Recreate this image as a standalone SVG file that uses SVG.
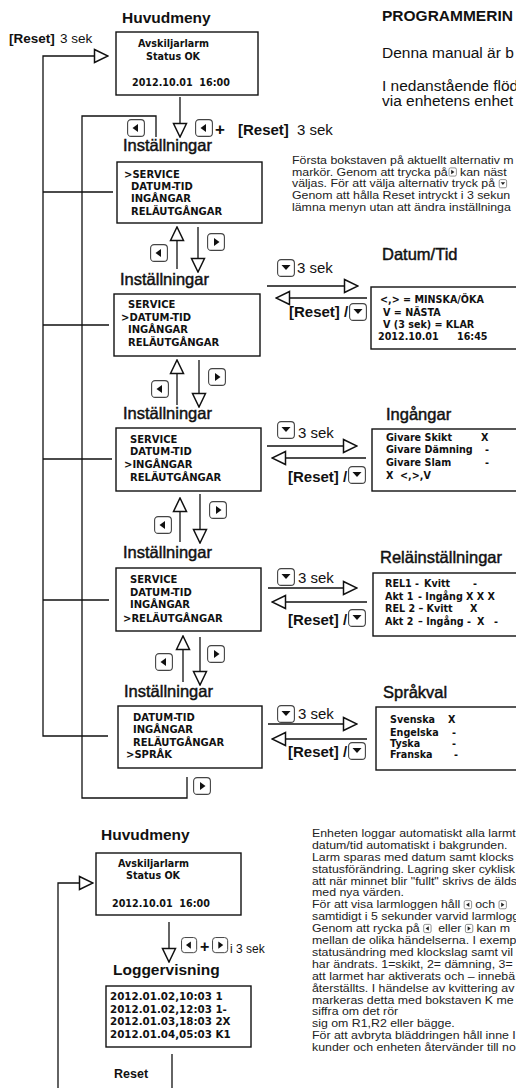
<svg xmlns="http://www.w3.org/2000/svg" width="516" height="1088" viewBox="0 0 516 1088">
<style>
text{font-family:"Liberation Sans",Arial,sans-serif;fill:#111}
.hb{font-weight:bold;font-size:15.5px}
.ttl{font-size:16.5px;stroke:#111;stroke-width:0.45px}
.bx{font-family:"DejaVu Sans",sans-serif;font-weight:bold;font-size:9.6px}
.mx{font-family:"DejaVu Sans",sans-serif;font-weight:bold;font-size:10px}
.lg{font-family:"DejaVu Sans",sans-serif;font-weight:bold;font-size:10.3px}
.lbl{font-size:15px}
.b{font-weight:bold}
.par{font-size:10.3px;fill:#222}
.big{font-size:15.5px}
.box{fill:#fff;stroke:#111;stroke-width:1.4}
.ln{fill:none;stroke:#111;stroke-width:1.3}
.btn{fill:#fff;stroke:#444;stroke-width:1.1}
.sbtn{fill:#fff;stroke:#666;stroke-width:0.7}
</style>
<defs>
<marker id="tri" viewBox="0 0 16 16" refX="15" refY="8" markerWidth="16" markerHeight="16" markerUnits="userSpaceOnUse" orient="auto">
<path d="M1.5,1.5 L15,8 L1.5,14.5 Z" fill="#fff" stroke="#111" stroke-width="1.5" stroke-linejoin="miter"/>
</marker>
<g id="bL"><rect x="0.6" y="0.6" width="16.8" height="16.8" rx="3.5" class="btn"/><path d="M5.5,9 L11,5 L11,13 Z" fill="#111"/></g>
<g id="bR"><rect x="0.6" y="0.6" width="16.8" height="16.8" rx="3.5" class="btn"/><path d="M12.5,9 L7,5 L7,13 Z" fill="#111"/></g>
<g id="bD"><rect x="0.6" y="0.6" width="16.8" height="16.8" rx="3.5" class="btn"/><path d="M4.5,6 L13.5,6 L9,11 Z" fill="#111"/></g>
<g id="sL"><rect x="0.4" y="0.4" width="7.4" height="8.2" rx="1.5" class="sbtn"/><path d="M2.3,4.5 L5.5,2.3 L5.5,6.7 Z" fill="#222"/></g>
<g id="sR"><rect x="0.4" y="0.4" width="7.4" height="8.2" rx="1.5" class="sbtn"/><path d="M5.8,4.5 L2.6,2.3 L2.6,6.7 Z" fill="#222"/></g>
<g id="sD"><rect x="0.4" y="0.4" width="7.4" height="8.2" rx="1.5" class="sbtn"/><path d="M1.9,3 L6.3,3 L4.1,5.8 Z" fill="#222"/></g>
</defs>

<g id="connectors">
<path class="ln" d="M108,736 H43 V56 H108" marker-end="url(#tri)"/>
<path class="ln" d="M43,192 H113 M43,325 H109 M43,459 H112 M43,600 H109"/>
<path class="ln" d="M156,137 V116 H82 V798 H187 V777"/>
<path class="ln" d="M180,97 V137" marker-end="url(#tri)"/>
<path class="ln" d="M177,269 V227" marker-end="url(#tri)"/>
<path class="ln" d="M198,227 V272" marker-end="url(#tri)"/>
<path class="ln" d="M177,405 V360" marker-end="url(#tri)"/>
<path class="ln" d="M199,360 V407" marker-end="url(#tri)"/>
<path class="ln" d="M180,542 V498" marker-end="url(#tri)"/>
<path class="ln" d="M200,494 V543" marker-end="url(#tri)"/>
<path class="ln" d="M183,682 V636" marker-end="url(#tri)"/>
<path class="ln" d="M200,637 V685" marker-end="url(#tri)"/>
<path class="ln" d="M267,286 H358" marker-end="url(#tri)"/>
<path class="ln" d="M367,298 H276" marker-end="url(#tri)"/>
<path class="ln" d="M267,446 H357" marker-end="url(#tri)"/>
<path class="ln" d="M366,458 H272" marker-end="url(#tri)"/>
<path class="ln" d="M268,588 H357" marker-end="url(#tri)"/>
<path class="ln" d="M367,602 H272" marker-end="url(#tri)"/>
<path class="ln" d="M268,724 H357" marker-end="url(#tri)"/>
<path class="ln" d="M367,739 H272" marker-end="url(#tri)"/>
<path class="ln" d="M58,1088 V883 H93" marker-end="url(#tri)"/>
<path class="ln" d="M169,922 V962" marker-end="url(#tri)"/>
<path class="ln" d="M172,1054 V1088"/>
</g>

<g id="labels">
<text x="9" y="43" class="b" style="font-size:13.5px">[Reset]</text>
<text x="60" y="43" style="font-size:13.5px">3 sek</text>
<use href="#bL" x="127" y="119"/>
<use href="#bL" x="195" y="119"/>
<text x="215" y="135" class="b" style="font-size:17px">+</text>
<text x="238" y="135" class="lbl b">[Reset]</text>
<text x="297" y="135" class="lbl">3 sek</text>
<use href="#bL" x="150" y="244"/><use href="#bR" x="207" y="233"/>
<use href="#bL" x="151" y="380"/><use href="#bR" x="208" y="368"/>
<use href="#bL" x="154" y="516"/><use href="#bR" x="209" y="501"/>
<use href="#bL" x="155" y="653"/><use href="#bR" x="207" y="645"/>
<use href="#bR" x="193" y="777"/>
<use href="#bD" x="277" y="259"/><text x="297" y="273" class="lbl">3 sek</text>
<text x="289" y="317" class="lbl b">[Reset] /</text><use href="#bD" x="349" y="303"/>
<use href="#bD" x="277" y="421"/><text x="298" y="438" class="lbl">3 sek</text>
<text x="288" y="482" class="lbl b">[Reset] /</text><use href="#bD" x="348" y="466"/>
<use href="#bD" x="277" y="568"/><text x="298" y="583" class="lbl">3 sek</text>
<text x="288" y="625" class="lbl b">[Reset] /</text><use href="#bD" x="348" y="609"/>
<use href="#bD" x="277" y="705"/><text x="298" y="719" class="lbl">3 sek</text>
<text x="288" y="757" class="lbl b">[Reset] /</text><use href="#bD" x="348" y="742"/>
<use href="#bL" transform="translate(181,937) scale(0.9)"/>
<text x="200" y="952" class="b" style="font-size:16px">+</text>
<use href="#bR" transform="translate(212,937) scale(0.9)"/>
<text x="230" y="953" style="font-size:12px">i 3 sek</text>
<text x="114" y="1078" class="b" style="font-size:12.5px">Reset</text>
</g>

<g id="huvudmeny">
<text x="122" y="23" class="hb">Huvudmeny</text>
<rect x="116" y="32" width="142" height="63" class="box"/>
<text x="138" y="47" class="bx">Avskiljarlarm</text>
<text x="146" y="60" class="bx">Status OK</text>
<text x="132" y="86" class="bx" xml:space="preserve">2012.10.01  16:00</text>
</g>

<g id="inst1">
<text x="123" y="151" class="ttl">Inställningar</text>
<rect x="117" y="162" width="145" height="61" class="box"/>
<text x="124" y="178" class="mx">&gt;SERVICE</text>
<text x="131" y="190" class="mx">DATUM-TID</text>
<text x="131" y="202" class="mx">INGÅNGAR</text>
<text x="131" y="214.5" class="mx">RELÄUTGÅNGAR</text>
</g>

<g id="inst2">
<text x="120" y="285" class="ttl">Inställningar</text>
<rect x="114" y="294" width="146" height="62" class="box"/>
<text x="128" y="308" class="mx">SERVICE</text>
<text x="121" y="321" class="mx">&gt;DATUM-TID</text>
<text x="128" y="333" class="mx">INGÅNGAR</text>
<text x="128" y="346" class="mx">RELÄUTGÅNGAR</text>
</g>

<g id="inst3">
<text x="123" y="419" class="ttl">Inställningar</text>
<rect x="116" y="428" width="145" height="63" class="box"/>
<text x="130" y="443" class="mx">SERVICE</text>
<text x="130" y="455" class="mx">DATUM-TID</text>
<text x="124" y="468" class="mx">&gt;INGÅNGAR</text>
<text x="130" y="481" class="mx">RELÄUTGÅNGAR</text>
</g>

<g id="inst4">
<text x="123" y="558" class="ttl">Inställningar</text>
<rect x="116" y="568" width="145" height="63" class="box"/>
<text x="130" y="583" class="mx">SERVICE</text>
<text x="130" y="596" class="mx">DATUM-TID</text>
<text x="130" y="608" class="mx">INGÅNGAR</text>
<text x="123" y="622" class="mx">&gt;RELÄUTGÅNGAR</text>
</g>

<g id="inst5">
<text x="124" y="697" class="ttl">Inställningar</text>
<rect x="118" y="706" width="144" height="62" class="box"/>
<text x="133" y="721" class="mx">DATUM-TID</text>
<text x="133" y="733" class="mx">INGÅNGAR</text>
<text x="133" y="746" class="mx">RELÄUTGÅNGAR</text>
<text x="126" y="758" class="mx">&gt;SPRÅK</text>
</g>

<g id="datumtid">
<text x="382" y="260" class="ttl">Datum/Tid</text>
<rect x="371" y="287" width="160" height="62" class="box"/>
<text x="380" y="303" class="bx">&lt;,&gt; = MINSKA/ÖKA</text>
<text x="383" y="316" class="bx">V = NÄSTA</text>
<text x="383" y="328" class="bx">V (3 sek) = KLAR</text>
<text x="378" y="340" class="bx">2012.10.01</text><text x="457" y="340" class="bx">16:45</text>
</g>

<g id="ingangar">
<text x="386" y="420" class="ttl">Ingångar</text>
<rect x="372" y="429" width="160" height="62" class="box"/>
<text x="386" y="441" class="bx">Givare Skikt</text><text x="481" y="441" class="bx">X</text>
<text x="386" y="453" class="bx">Givare Dämning</text><text x="485" y="453" class="bx">-</text>
<text x="386" y="466" class="bx">Givare Slam</text><text x="485" y="466" class="bx">-</text>
<text x="386" y="479" class="bx" xml:space="preserve">X  &lt;,&gt;,V</text>
</g>

<g id="relainst">
<text x="380" y="563" class="ttl">Reläinställningar</text>
<rect x="373" y="573" width="160" height="63" class="box"/>
<text x="385" y="587" class="bx">REL1 -</text><text x="424" y="587" class="bx">Kvitt</text><text x="473" y="587" class="bx">-</text>
<text x="385" y="600" class="bx">Akt 1</text><text x="418" y="600" class="bx">- Ingång X X X</text>
<text x="385" y="612" class="bx">REL 2 – Kvitt</text><text x="470" y="612" class="bx">X</text>
<text x="385" y="625" class="bx">Akt 2</text><text x="418" y="625" class="bx">– Ingång -</text><text x="477" y="625" class="bx">X</text><text x="494" y="625" class="bx">-</text>
</g>

<g id="sprakval">
<text x="383" y="698" class="ttl">Språkval</text>
<rect x="376" y="707" width="160" height="63" class="box"/>
<text x="390" y="723" class="bx">Svenska</text><text x="448" y="723" class="bx">X</text>
<text x="390" y="736" class="bx">Engelska</text><text x="452" y="736" class="bx">-</text>
<text x="390" y="747" class="bx">Tyska</text><text x="452" y="747" class="bx">-</text>
<text x="390" y="758" class="bx">Franska</text><text x="454" y="758" class="bx">-</text>
</g>

<g id="huvudmeny2">
<text x="101" y="840" class="hb">Huvudmeny</text>
<rect x="96" y="853" width="145" height="62" class="box"/>
<text x="118" y="867" class="bx">Avskiljarlarm</text>
<text x="126" y="879" class="bx">Status OK</text>
<text x="112" y="907" class="bx" xml:space="preserve">2012.10.01  16:00</text>
</g>

<g id="logger">
<text x="113" y="975" class="hb">Loggervisning</text>
<rect x="106" y="986" width="145" height="61" class="box"/>
<text x="110" y="1000" class="lg">2012.01.02,10:03 1</text>
<text x="110" y="1013" class="lg">2012.01.02,12:03 1-</text>
<text x="110" y="1025" class="lg">2012.01.03,18:03 2X</text>
<text x="110" y="1038" class="lg">2012.01.04,05:03 K1</text>
</g>

<g id="text-top">
<text x="382" y="21" class="b" style="font-size:15.5px">PROGRAMMERIN</text>
<text x="382" y="58" class="big">Denna manual är b</text>
<text x="382" y="91" class="big">I nedanstående flöd</text>
<text x="382" y="106" class="big">via enhetens enhet</text>
<g transform="translate(292,0) scale(1.2,1)">
<text x="0" y="164" class="par">Första bokstaven på aktuellt alternativ m</text>
<text x="0" y="175.7" class="par">markör. Genom att trycka på</text>
<text x="137.2" y="175.7" class="par" xml:space="preserve"> kan näst</text>
<text x="0" y="187.4" class="par">väljas. För att välja alternativ tryck på</text>
<text x="0" y="199.1" class="par">Genom att hålla Reset intryckt i 3 sekun</text>
<text x="0" y="210.8" class="par">lämna menyn utan att ändra inställninga</text>
</g>
<use href="#sR" x="448.6" y="167.5"/>
<use href="#sD" x="498.8" y="179.2"/>
</g>

<g id="text-bottom">
<g transform="translate(312,0) scale(1.2,1)">
<text x="0" y="837" class="par">Enheten loggar automatiskt alla larmt</text>
<text x="0" y="848.9" class="par">datum/tid automatiskt i bakgrunden.</text>
<text x="0" y="860.8" class="par">Larm sparas med datum samt klocks</text>
<text x="0" y="872.7" class="par">statusförändring. Lagring sker cyklisk</text>
<text x="0" y="884.6" class="par">att när minnet blir "fullt" skrivs de älds</text>
<text x="0" y="896.5" class="par">med nya värden.</text>
<text x="0" y="908.4" class="par">För att visa larmloggen håll</text>
<text x="133.2" y="908.4" class="par" xml:space="preserve"> och </text>
<text x="0" y="920.3" class="par">samtidigt i 5 sekunder varvid larmlogg</text>
<text x="0" y="932.2" class="par">Genom att rycka på</text>
<text x="99.4" y="932.2" class="par" xml:space="preserve">  eller </text>
<text x="134.2" y="932.2" class="par" xml:space="preserve"> kan m</text>
<text x="0" y="944.1" class="par">mellan de olika händelserna. I exemp</text>
<text x="0" y="956" class="par">statusändring med klockslag samt vil</text>
<text x="0" y="967.9" class="par">har ändrats. 1=skikt, 2= dämning, 3=</text>
<text x="0" y="979.8" class="par">att larmet har aktiverats och – innebä</text>
<text x="0" y="991.7" class="par">återställts. I händelse av kvittering av</text>
<text x="0" y="1003.6" class="par">markeras detta med bokstaven K me</text>
<text x="0" y="1015.5" class="par">siffra om det rör</text>
<text x="0" y="1027.4" class="par">sig om R1,R2 eller bägge.</text>
<text x="0" y="1039.3" class="par">För att avbryta bläddringen håll inne I</text>
<text x="0" y="1051.2" class="par">kunder och enheten återvänder till no</text>
</g>
<use href="#sL" x="463.8" y="900.2"/>
<use href="#sR" x="498.6" y="900.2"/>
<use href="#sL" x="423.3" y="924"/>
<use href="#sR" x="465" y="924"/>
</g>
</svg>
